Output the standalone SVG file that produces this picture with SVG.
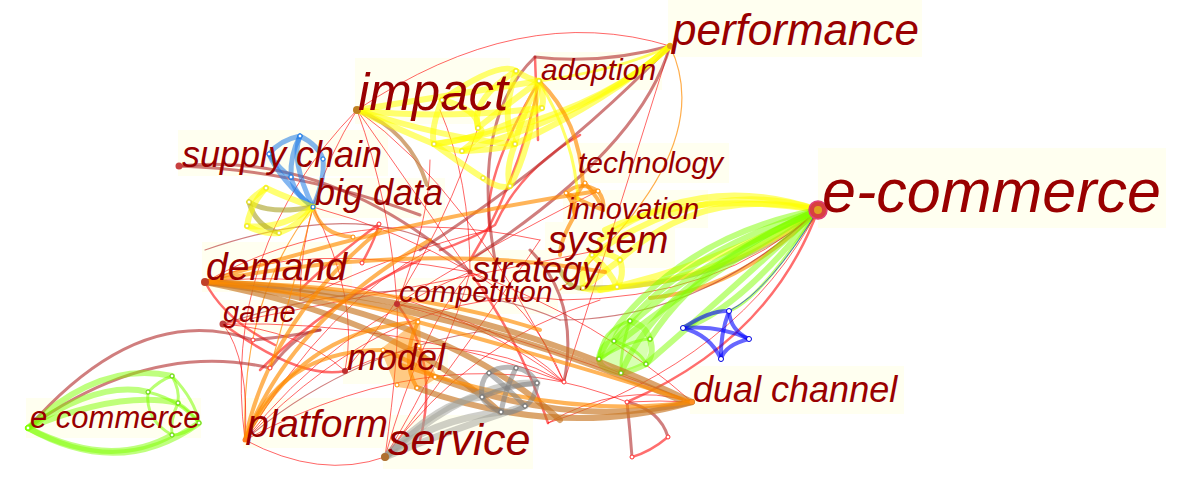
<svg xmlns="http://www.w3.org/2000/svg" width="1200" height="486" viewBox="0 0 1200 486">
<style>
text{font-family:"Liberation Sans",Arial,sans-serif;font-style:italic;fill:#990000}
.bg{fill:#fffff0}
path{fill:none;stroke-linecap:round}
.y{stroke:#ffff00;stroke-width:6;opacity:.55}
.yt{stroke:#ffff00;stroke-width:3;opacity:.6}
.g{stroke:#7fff00;stroke-width:6;opacity:.5}
.gt{stroke:#7fff00;stroke-width:3;opacity:.55}
.o{stroke:#ff8c00;stroke-width:4;opacity:.65}
.ot{stroke:#ff8c00;stroke-width:1.2;opacity:.7}
.ob{stroke:#c87420;stroke-width:6;opacity:.65}
.r{stroke:#ff0000;stroke-width:1;opacity:.6}
.r2{stroke:#ff2020;stroke-width:2.5;opacity:.65}
.dr{stroke:#b02828;stroke-width:3;opacity:.6}
.drt{stroke:#b02828;stroke-width:1.2;opacity:.6}
.bl{stroke:#0000ff;stroke-width:4;opacity:.6}
.lb{stroke:#1e7ae6;stroke-width:5;opacity:.55}
.gr{stroke:#808080;stroke-width:5;opacity:.55}
.grl{stroke:#a0a098;stroke-width:7;opacity:.5}
.ol{stroke:#a8a020;stroke-width:5;opacity:.6}
.tan{stroke:#c08040;stroke-width:4;opacity:.7}
.cn{fill:#fff;stroke-width:1.2}
.nd{stroke:none}
</style>
<g id="label-backgrounds">
<rect class="bg" x="668" y="0" width="254" height="57"/>
<rect class="bg" x="536" y="52" width="126" height="38"/>
<rect class="bg" x="355" y="58" width="155" height="66"/>
<rect class="bg" x="178" y="130" width="210" height="46"/>
<rect class="bg" x="310" y="178" width="135" height="40"/>
<rect class="bg" x="572" y="143" width="157" height="40"/>
<rect class="bg" x="563" y="190" width="145" height="38"/>
<rect class="bg" x="545" y="222" width="130" height="46"/>
<rect class="bg" x="818" y="148" width="348" height="80"/>
<rect class="bg" x="468" y="250" width="135" height="44"/>
<rect class="bg" x="396" y="278" width="162" height="36"/>
<rect class="bg" x="202" y="242" width="150" height="50"/>
<rect class="bg" x="220" y="300" width="82" height="34"/>
<rect class="bg" x="343" y="340" width="105" height="44"/>
<rect class="bg" x="690" y="366" width="214" height="48"/>
<rect class="bg" x="26" y="398" width="175" height="40"/>
<rect class="bg" x="243" y="398" width="148" height="50"/>
<rect class="bg" x="383" y="415" width="150" height="54"/>
</g>
<g id="connectors">
<path class="r" d="M357,110 Q520,0 670,46"/>
<path class="r" d="M357,110 Q220,250 245,440"/>
<path class="ot" d="M313,207 Q240,300 245,440"/>
<path class="r" d="M357,110 Q420,200 470,272"/>
<path class="r" d="M357,110 Q390,200 397,304"/>
<path class="r" d="M357,110 Q470,190 564,382"/>
<path class="r" d="M357,110 Q300,200 300,300"/>
<path class="r" d="M205,282 Q400,260 564,382"/>
<path class="r" d="M223,324 Q400,320 564,382"/>
<path class="r" d="M397,304 Q500,320 564,382"/>
<path class="r" d="M470,272 Q530,300 564,382"/>
<path class="r" d="M345,371 Q450,320 564,382"/>
<path class="r" d="M397,304 Q560,350 692,402"/>
<path class="r" d="M470,272 Q600,320 692,402"/>
<path class="r" d="M245,440 Q400,280 564,300"/>
<path class="r" d="M245,440 Q330,330 470,272"/>
<path class="r" d="M385,457 Q420,330 470,272"/>
<path class="r" d="M385,457 Q400,350 397,304"/>
<path class="r" d="M245,440 Q250,360 223,324"/>
<path class="r" d="M345,371 Q300,330 223,324"/>
<path class="r" d="M205,282 Q300,240 470,272"/>
<path class="r" d="M313,207 Q400,230 470,272"/>
<path class="r" d="M313,207 Q360,300 345,371"/>
<path class="r" d="M470,272 Q450,350 385,457"/>
<path class="r" d="M548,423 Q620,380 692,402"/>
<path class="r" d="M397,304 Q480,250 598,191"/>
<path class="r" d="M205,282 Q350,200 540,240"/>
<path class="r" d="M245,440 Q320,480 385,457"/>
<path class="r" d="M245,440 Q450,330 627,402"/>
<path class="r" d="M385,457 Q500,300 540,240"/>
<path class="r" d="M223,324 Q450,280 600,250"/>
<path class="r" d="M397,304 Q430,220 430,160"/>
<path class="r" d="M470,272 Q470,180 440,110"/>
<path class="r" d="M345,371 Q430,270 478,128"/>
<path class="r" d="M245,440 Q330,300 430,250"/>
<path class="r" d="M385,457 Q470,340 600,300"/>
<path class="r" d="M564,382 Q600,270 670,46"/>
<path class="r" d="M300,300 Q400,250 490,230"/>
<path class="drt" d="M205,250 Q350,200 440,245"/>
<path class="drt" d="M223,324 Q420,260 560,320"/>
<path class="drt" d="M245,440 Q350,350 490,330"/>
<path class="r2" d="M205,282 Q225,320 275,345"/>
<path class="r2" d="M362,263 Q375,240 379,224"/>
<path class="r2" d="M379,224 Q330,260 300,290"/>
<path class="r2" d="M580,135 Q520,170 495,225 Q470,240 440,250"/>
<path class="r2" d="M539,81 Q480,180 490,230"/>
<path class="r2" d="M539,81 Q520,180 470,260"/>
<path class="r2" d="M535,57 L538,140"/>
<path class="r2" d="M223,324 Q300,380 345,371"/>
<path class="r2" d="M397,304 Q440,360 420,440"/>
<path class="r2" d="M470,272 Q520,340 548,423"/>
<path class="r2" d="M260,370 Q330,300 420,260"/>
<path class="dr" d="M535,57 Q600,65 670,46"/>
<path class="dr" d="M535,57 Q470,120 495,260"/>
<path class="dr" d="M670,46 Q640,150 470,260"/>
<path class="dr" d="M670,46 Q560,160 420,250"/>
<path class="dr" d="M179,166 Q330,150 470,272"/>
<path class="dr" d="M179,166 Q300,170 420,215"/>
<path class="dr" d="M564,382 Q580,300 530,250"/>
<path class="dr" d="M253,340 Q300,335 320,330"/>
<path class="dr" d="M28,428 Q140,300 253,340"/>
<path class="dr" d="M28,428 Q150,340 270,368"/>
<path class="dr" d="M270,368 Q300,330 320,330"/>
<path class="dr" d="M627,402 Q660,410 668,437"/>
<path class="dr" d="M632,457 Q630,430 627,402"/>
<path class="r2" d="M668,437 Q650,452 632,457"/>
<path class="r" d="M692,402 Q660,400 627,402"/>
<path class="tan" d="M357,110 Q410,130 427,185"/>
<path class="y" d="M357,110 Q450,95 539,81"/>
<path class="y" d="M357,110 Q440,120 542,108"/>
<path class="y" d="M357,110 Q400,130 434,144"/>
<path class="y" d="M357,110 Q450,140 515,144"/>
<path class="y" d="M442,100 Q430,130 434,144"/>
<path class="y" d="M442,100 Q480,110 478,128"/>
<path class="y" d="M442,100 Q500,60 516,71"/>
<path class="y" d="M516,71 Q530,80 539,81"/>
<path class="y" d="M516,71 Q500,120 515,144"/>
<path class="y" d="M516,71 Q470,100 478,128"/>
<path class="y" d="M539,81 Q520,120 515,144"/>
<path class="y" d="M539,81 Q500,110 478,128"/>
<path class="y" d="M539,81 Q545,95 542,108"/>
<path class="y" d="M539,81 Q530,150 510,186"/>
<path class="y" d="M434,144 Q450,150 462,151"/>
<path class="y" d="M434,144 Q470,170 483,178"/>
<path class="y" d="M462,151 Q490,130 478,128"/>
<path class="y" d="M462,151 Q500,150 515,144"/>
<path class="y" d="M483,178 Q500,190 510,186"/>
<path class="y" d="M515,144 Q505,170 510,186"/>
<path class="y" d="M434,144 Q480,140 542,108"/>
<path class="y" d="M670,46 Q600,110 462,151"/>
<path class="y" d="M670,46 Q590,120 434,144"/>
<path class="y" d="M670,46 Q610,100 515,144"/>
<path class="yt" d="M670,46 Q620,70 539,81"/>
<path class="o" d="M566,193 Q580,180 598,191"/>
<path class="o" d="M566,193 Q575,205 575,215"/>
<path class="o" d="M598,191 Q605,200 603,210"/>
<path class="o" d="M585,183 Q570,200 575,215"/>
<path class="o" d="M585,183 Q600,200 603,210"/>
<path class="o" d="M566,193 Q590,205 603,210"/>
<path class="o" d="M539,81 Q580,120 583,185"/>
<path class="o" d="M575,215 Q560,240 560,255"/>
<path class="yt" d="M539,81 Q575,140 578,200"/>
<path class="ot" d="M670,46 Q720,150 560,290"/>
<path class="y" d="M818,210 Q700,170 600,240"/>
<path class="y" d="M818,210 Q710,175 592,255"/>
<path class="y" d="M818,210 Q700,185 620,260"/>
<path class="y" d="M818,210 Q690,190 605,230"/>
<path class="ol" d="M818,210 Q720,290 583,288"/>
<path class="y" d="M818,210 Q720,280 617,287"/>
<path class="y" d="M818,210 Q700,270 600,290"/>
<path class="o" d="M818,210 Q740,290 650,298"/>
<path class="r" d="M818,210 Q720,300 560,300"/>
<path class="drt" d="M818,210 Q700,320 560,320"/>
<path class="y" d="M592,255 Q605,250 620,260"/>
<path class="y" d="M620,260 Q625,275 617,287"/>
<path class="y" d="M617,287 Q600,292 583,288"/>
<path class="y" d="M583,288 Q580,270 592,255"/>
<path class="y" d="M592,255 Q610,270 617,287"/>
<path class="y" d="M620,260 Q600,275 583,288"/>
<path class="ol" d="M560,270 Q570,290 583,288"/>
<path class="g" d="M818,210 Q690,250 630,321"/>
<path class="g" d="M818,210 Q700,260 650,339"/>
<path class="g" d="M818,210 Q680,270 614,341"/>
<path class="g" d="M818,210 Q720,300 646,364"/>
<path class="g" d="M818,210 Q680,290 599,359"/>
<path class="g" d="M818,210 Q740,310 683,328"/>
<path class="g" d="M818,210 Q660,280 621,373"/>
<path class="g" d="M818,210 Q710,230 640,300 Q610,330 599,359"/>
<path class="gt" d="M818,210 Q760,300 729,311"/>
<path class="r" d="M818,210 Q770,290 729,311" style="stroke:#0000ff"/>
<path class="r2" d="M818,210 Q770,340 627,402"/>
<path class="r" d="M818,210 Q740,360 548,423"/>
<path d="M630,321 L650,339 L646,364 L621,373 L599,359 L614,341 Z" style="fill:#7fff00;opacity:.3;stroke:none"/>
<path class="g" d="M630,321 Q645,325 650,339"/>
<path class="g" d="M650,339 Q655,355 646,364"/>
<path class="g" d="M646,364 Q630,372 621,373"/>
<path class="g" d="M621,373 Q600,370 599,359"/>
<path class="g" d="M599,359 Q600,345 614,341"/>
<path class="g" d="M614,341 Q620,325 630,321"/>
<path class="gt" d="M630,321 Q620,350 621,373"/>
<path class="gt" d="M614,341 Q640,350 646,364"/>
<path class="gt" d="M599,359 Q630,340 650,339"/>
<path class="gt" d="M630,321 Q600,330 599,359"/>
<path class="bl" d="M683,328 Q710,310 729,311"/>
<path class="bl" d="M729,311 Q730,330 749,339"/>
<path class="bl" d="M749,339 Q725,345 721,359"/>
<path class="bl" d="M721,359 Q710,335 683,328"/>
<path class="bl" d="M683,328 Q720,325 749,339"/>
<path class="bl" d="M729,311 Q720,335 721,359"/>
<path class="ob" d="M205,282 Q460,290 692,402"/>
<path class="ob" d="M205,282 Q450,300 680,400"/>
<path class="ob" d="M205,282 Q440,310 560,420"/>
<path class="ob" d="M205,282 Q400,320 500,412"/>
<path class="o" d="M205,282 Q360,300 418,320"/>
<path class="o" d="M205,282 Q400,285 540,330"/>
<path class="o" d="M205,282 Q400,220 598,191"/>
<path class="o" d="M205,282 Q420,240 605,272"/>
<path class="ob" d="M417,388 Q560,440 692,402"/>
<path class="ob" d="M435,377 Q570,430 692,402"/>
<path class="o" d="M401,365 Q560,420 692,402"/>
<path class="o" d="M418,322 Q560,360 692,402"/>
<path class="o" d="M245,440 Q270,320 380,230"/>
<path class="o" d="M245,440 Q290,320 430,240"/>
<path class="o" d="M245,440 Q300,330 418,322"/>
<path class="o" d="M245,440 Q280,350 383,350"/>
<path class="o" d="M313,207 Q320,235 353,237"/>
<path class="ot" d="M313,207 Q290,300 270,368"/>
<path d="M418,322 L383,350 L397,385 L417,388 L435,377 L419,346 Z" style="fill:#ff8c00;opacity:.45;stroke:#ff8c00;stroke-width:4"/>
<path class="o" d="M418,322 Q400,360 417,388"/>
<path class="o" d="M383,350 Q410,360 435,377"/>
<path class="grl" d="M385,457 Q430,420 501,412"/>
<path class="grl" d="M385,457 Q440,400 482,397"/>
<path class="grl" d="M385,457 Q450,430 525,406"/>
<path class="grl" d="M385,457 Q470,380 537,383"/>
<path class="gr" d="M489,373 Q500,365 516,368"/>
<path class="gr" d="M516,368 Q530,370 537,383"/>
<path class="gr" d="M537,383 Q535,400 525,406"/>
<path class="gr" d="M525,406 Q510,415 501,412"/>
<path class="gr" d="M501,412 Q485,405 482,397"/>
<path class="gr" d="M482,397 Q480,380 489,373"/>
<path class="gr" d="M489,373 Q510,390 525,406"/>
<path class="gr" d="M516,368 Q505,390 501,412"/>
<path class="gr" d="M482,397 Q510,385 537,383"/>
<path class="g" d="M28,428 Q100,360 172,376"/>
<path class="g" d="M28,428 Q100,380 148,392"/>
<path class="g" d="M28,428 Q120,390 178,403"/>
<path class="g" d="M28,428 Q110,470 172,435"/>
<path class="g" d="M28,428 Q120,480 199,423"/>
<path class="gt" d="M148,392 Q160,380 172,376"/>
<path class="gt" d="M172,376 Q180,390 178,403"/>
<path class="gt" d="M178,403 Q190,410 199,423"/>
<path class="gt" d="M199,423 Q185,435 172,435"/>
<path class="gt" d="M172,435 Q145,420 148,392"/>
<path class="gt" d="M172,376 Q195,400 199,423"/>
<path class="gt" d="M148,392 Q180,400 199,423"/>
<path class="gt" d="M178,403 Q170,420 172,435"/>
<path class="lb" d="M313,207 Q290,160 300,136"/>
<path class="lb" d="M313,207 Q280,180 269,154"/>
<path class="lb" d="M313,207 Q325,180 323,159"/>
<path class="lb" d="M313,207 Q295,195 291,177"/>
<path class="lb" d="M300,136 Q280,140 269,154"/>
<path class="lb" d="M300,136 Q318,145 323,159"/>
<path class="lb" d="M269,154 Q280,170 291,177"/>
<path class="lb" d="M300,136 Q290,155 291,177"/>
<path class="y" d="M313,207 Q280,195 266,188"/>
<path class="ol" d="M313,207 Q270,215 249,202"/>
<path class="y" d="M313,207 Q280,230 247,226"/>
<path class="y" d="M313,207 Q300,225 279,233"/>
<path class="y" d="M266,188 Q255,195 249,202"/>
<path class="ol" d="M249,202 Q255,225 279,233"/>
<path class="y" d="M247,226 Q265,235 279,233"/>
<path class="y" d="M266,188 Q250,205 247,226"/>
</g>
<g id="node-e-commerce"><circle cx="818" cy="210" r="9" fill="#d84040" stroke="#e0407a" stroke-width="1.5"/><circle cx="818" cy="210" r="4" fill="#e0a020"/><text x="822" y="212" font-size="61">e-commerce</text></g>
<g id="node-performance"><circle class="nd" cx="670" cy="46" r="3" fill="#e0a020"/><text x="672" y="45" font-size="44">performance</text></g>
<g id="node-impact"><circle class="nd" cx="357" cy="110" r="4" fill="#c08020"/><text x="358" y="110" font-size="51">impact</text></g>
<g id="node-adoption"><circle class="cn" cx="539" cy="81" r="2" stroke="#e0e020"/><text x="541" y="80" font-size="30">adoption</text></g>
<g id="node-technology"><text x="578" y="173" font-size="30">technology</text></g>
<g id="node-innovation"><text x="567" y="219" font-size="29">innovation</text></g>
<g id="node-system"><text x="548" y="253" font-size="38">system</text></g>
<g id="node-strategy"><circle class="nd" cx="470" cy="272" r="2.5" fill="#c03030"/><text x="472" y="282" font-size="36">strategy</text></g>
<g id="node-competition"><circle class="nd" cx="397" cy="304" r="3" fill="#c03030"/><text x="399" y="302" font-size="30">competition</text></g>
<g id="node-supply-chain"><circle class="nd" cx="179" cy="166" r="3.5" fill="#c84040"/><text x="182" y="167" font-size="36">supply chain</text></g>
<g id="node-big-data"><circle class="cn" cx="313" cy="207" r="2" stroke="#1e7ae6"/><text x="315" y="205" font-size="36">big data</text></g>
<g id="node-demand"><circle class="nd" cx="205" cy="282" r="4" fill="#c04028"/><text x="206" y="280" font-size="39">demand</text></g>
<g id="node-game"><circle class="nd" cx="223" cy="324" r="3.5" fill="#c04040"/><text x="223" y="322" font-size="29">game</text></g>
<g id="node-model"><circle class="nd" cx="345" cy="371" r="3" fill="#c03030"/><text x="347" y="370" font-size="36">model</text></g>
<g id="node-dual-channel"><circle class="nd" cx="692" cy="402" r="2.5" fill="#ff9020"/><text x="693" y="402" font-size="36">dual channel</text></g>
<g id="node-e-commerce-2"><circle class="cn" cx="28" cy="428" r="2" stroke="#7fff00"/><text x="30" y="428" font-size="31">e commerce</text></g>
<g id="node-platform"><circle class="nd" cx="245" cy="440" r="2.5" fill="#ff8020"/><text x="247" y="437" font-size="39">platform</text></g>
<g id="node-service"><circle class="nd" cx="385" cy="457" r="4" fill="#b07030"/><text x="388" y="455" font-size="45">service</text></g>
<g id="cluster-dots" fill="#fff" stroke-width="1">
<g stroke="#e8e030"><circle cx="442" cy="100" r="2"/><circle cx="516" cy="71" r="2"/><circle cx="542" cy="108" r="2"/><circle cx="478" cy="128" r="2"/><circle cx="434" cy="144" r="2"/><circle cx="462" cy="151" r="2"/><circle cx="515" cy="144" r="2"/><circle cx="483" cy="178" r="2"/><circle cx="510" cy="186" r="2"/><circle cx="592" cy="255" r="2"/><circle cx="620" cy="260" r="2"/><circle cx="617" cy="287" r="2"/><circle cx="583" cy="288" r="2"/><circle cx="266" cy="188" r="2"/><circle cx="249" cy="202" r="2"/><circle cx="247" cy="226" r="2"/><circle cx="279" cy="233" r="2"/></g>
<g stroke="#1e7ae6"><circle cx="300" cy="136" r="2"/><circle cx="269" cy="154" r="2"/><circle cx="323" cy="159" r="2"/><circle cx="291" cy="177" r="2"/></g>
<g stroke="#60d000"><circle cx="630" cy="321" r="2"/><circle cx="650" cy="339" r="2"/><circle cx="646" cy="364" r="2"/><circle cx="621" cy="373" r="2"/><circle cx="599" cy="359" r="2"/><circle cx="614" cy="341" r="2"/><circle cx="172" cy="376" r="2"/><circle cx="148" cy="392" r="2"/><circle cx="178" cy="403" r="2"/><circle cx="199" cy="423" r="2"/><circle cx="172" cy="435" r="2"/></g>
<g stroke="#0000e0"><circle cx="683" cy="328" r="2.5"/><circle cx="729" cy="311" r="2.5"/><circle cx="749" cy="339" r="2.5"/><circle cx="721" cy="359" r="2.5"/></g>
<g stroke="#707070"><circle cx="489" cy="373" r="2"/><circle cx="516" cy="368" r="2"/><circle cx="537" cy="383" r="2"/><circle cx="525" cy="406" r="2"/><circle cx="501" cy="412" r="2"/><circle cx="482" cy="397" r="2"/></g>
<g stroke="#ff8c00"><circle cx="418" cy="322" r="2"/><circle cx="383" cy="350" r="2"/><circle cx="419" cy="346" r="2"/><circle cx="435" cy="377" r="2"/><circle cx="417" cy="388" r="2"/><circle cx="397" cy="385" r="2"/><circle cx="566" cy="193" r="2"/><circle cx="598" cy="191" r="2"/><circle cx="585" cy="183" r="2"/><circle cx="353" cy="237" r="2"/></g>
<g stroke="#ff3030"><circle cx="627" cy="402" r="2"/><circle cx="668" cy="437" r="2"/><circle cx="632" cy="457" r="2"/><circle cx="379" cy="224" r="2"/><circle cx="362" cy="263" r="2"/><circle cx="564" cy="382" r="2"/><circle cx="253" cy="340" r="2"/><circle cx="270" cy="368" r="2"/></g>
</g>
</svg>
